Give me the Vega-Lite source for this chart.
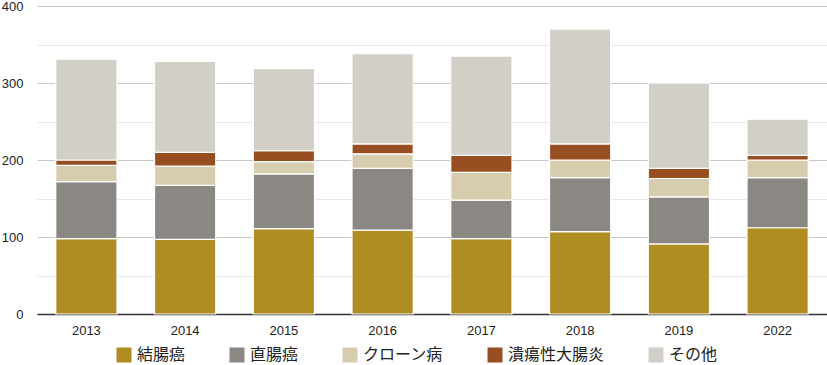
{
  "$schema": "https://vega.github.io/schema/vega-lite/v6.json",
  "autosize": {"type": "none"},
  "padding": {"left": 37, "top": 6, "right": 0, "bottom": 51},
  "width": 790,
  "height": 308,
  "background": "white",
  "config": {
    "view": {"stroke": null},
    "font": "Liberation Sans"
  },
  "data": {
    "values": [
      {"year": "2013", "cat": "結腸癌", "o": 1, "v": 98},
      {"year": "2013", "cat": "直腸癌", "o": 2, "v": 74},
      {"year": "2013", "cat": "クローン病", "o": 3, "v": 21},
      {"year": "2013", "cat": "潰瘍性大腸炎", "o": 4, "v": 7},
      {"year": "2013", "cat": "その他", "o": 5, "v": 131},
      {"year": "2014", "cat": "結腸癌", "o": 1, "v": 97},
      {"year": "2014", "cat": "直腸癌", "o": 2, "v": 70},
      {"year": "2014", "cat": "クローン病", "o": 3, "v": 25},
      {"year": "2014", "cat": "潰瘍性大腸炎", "o": 4, "v": 18},
      {"year": "2014", "cat": "その他", "o": 5, "v": 118},
      {"year": "2015", "cat": "結腸癌", "o": 1, "v": 111},
      {"year": "2015", "cat": "直腸癌", "o": 2, "v": 71},
      {"year": "2015", "cat": "クローン病", "o": 3, "v": 16},
      {"year": "2015", "cat": "潰瘍性大腸炎", "o": 4, "v": 14},
      {"year": "2015", "cat": "その他", "o": 5, "v": 107},
      {"year": "2016", "cat": "結腸癌", "o": 1, "v": 109},
      {"year": "2016", "cat": "直腸癌", "o": 2, "v": 80},
      {"year": "2016", "cat": "クローン病", "o": 3, "v": 19},
      {"year": "2016", "cat": "潰瘍性大腸炎", "o": 4, "v": 13},
      {"year": "2016", "cat": "その他", "o": 5, "v": 117},
      {"year": "2017", "cat": "結腸癌", "o": 1, "v": 98},
      {"year": "2017", "cat": "直腸癌", "o": 2, "v": 50},
      {"year": "2017", "cat": "クローン病", "o": 3, "v": 36},
      {"year": "2017", "cat": "潰瘍性大腸炎", "o": 4, "v": 22},
      {"year": "2017", "cat": "その他", "o": 5, "v": 129},
      {"year": "2018", "cat": "結腸癌", "o": 1, "v": 107},
      {"year": "2018", "cat": "直腸癌", "o": 2, "v": 70},
      {"year": "2018", "cat": "クローン病", "o": 3, "v": 23},
      {"year": "2018", "cat": "潰瘍性大腸炎", "o": 4, "v": 21},
      {"year": "2018", "cat": "その他", "o": 5, "v": 149},
      {"year": "2019", "cat": "結腸癌", "o": 1, "v": 91},
      {"year": "2019", "cat": "直腸癌", "o": 2, "v": 61},
      {"year": "2019", "cat": "クローン病", "o": 3, "v": 24},
      {"year": "2019", "cat": "潰瘍性大腸炎", "o": 4, "v": 13},
      {"year": "2019", "cat": "その他", "o": 5, "v": 111},
      {"year": "2022", "cat": "結腸癌", "o": 1, "v": 112},
      {"year": "2022", "cat": "直腸癌", "o": 2, "v": 65},
      {"year": "2022", "cat": "クローン病", "o": 3, "v": 23},
      {"year": "2022", "cat": "潰瘍性大腸炎", "o": 4, "v": 6},
      {"year": "2022", "cat": "その他", "o": 5, "v": 47}
    ]
  },
  "mark": {"type": "bar", "stroke": "white", "strokeWidth": 1.2},
  "encoding": {
    "x": {
      "field": "year", "type": "nominal",
      "scale": {"paddingInner": 0.38, "paddingOuter": 0.19},
      "axis": {
        "title": null, "labelAngle": 0, "ticks": false, "labelPadding": 10,
        "labelFontSize": 13, "labelColor": "#222", "domainColor": "#333", "domainWidth": 1.5,
        "labelFont": "Liberation Sans"
      }
    },
    "y": {
      "field": "v", "type": "quantitative", "stack": "zero",
      "scale": {"domain": [0, 400], "nice": false},
      "axis": {
        "title": null, "values": [0, 50, 100, 150, 200, 250, 300, 350, 400],
        "labelExpr": "datum.value % 100 === 0 ? datum.label : ''",
        "ticks": false, "domain": false, "labelPadding": 14,
        "labelFontSize": 13, "labelColor": "#222", "labelFont": "Liberation Sans",
        "gridColor": {"condition": {"test": "datum.value % 100 === 0", "value": "#c8c8c8"}, "value": "#e6e6e6"},
        "gridWidth": 1
      }
    },
    "color": {
      "field": "cat", "type": "nominal",
      "scale": {
        "domain": ["結腸癌", "直腸癌", "クローン病", "潰瘍性大腸炎", "その他"],
        "range": ["#B08D23", "#8B8782", "#D8CCAE", "#974F22", "#D1CFC6"]
      },
      "legend": {
        "title": null, "orient": "none", "legendX": 79, "legendY": 341, "direction": "horizontal",
        "symbolType": "square", "symbolSize": 225, "symbolStrokeWidth": 0,
        "labelFont": "Noto Sans CJK JP", "labelFontSize": 16, "labelColor": "#222",
        "labelOffset": 5, "columnPadding": 43, "labelLimit": 300
      }
    },
    "order": {"field": "o", "type": "quantitative"}
  }
}
